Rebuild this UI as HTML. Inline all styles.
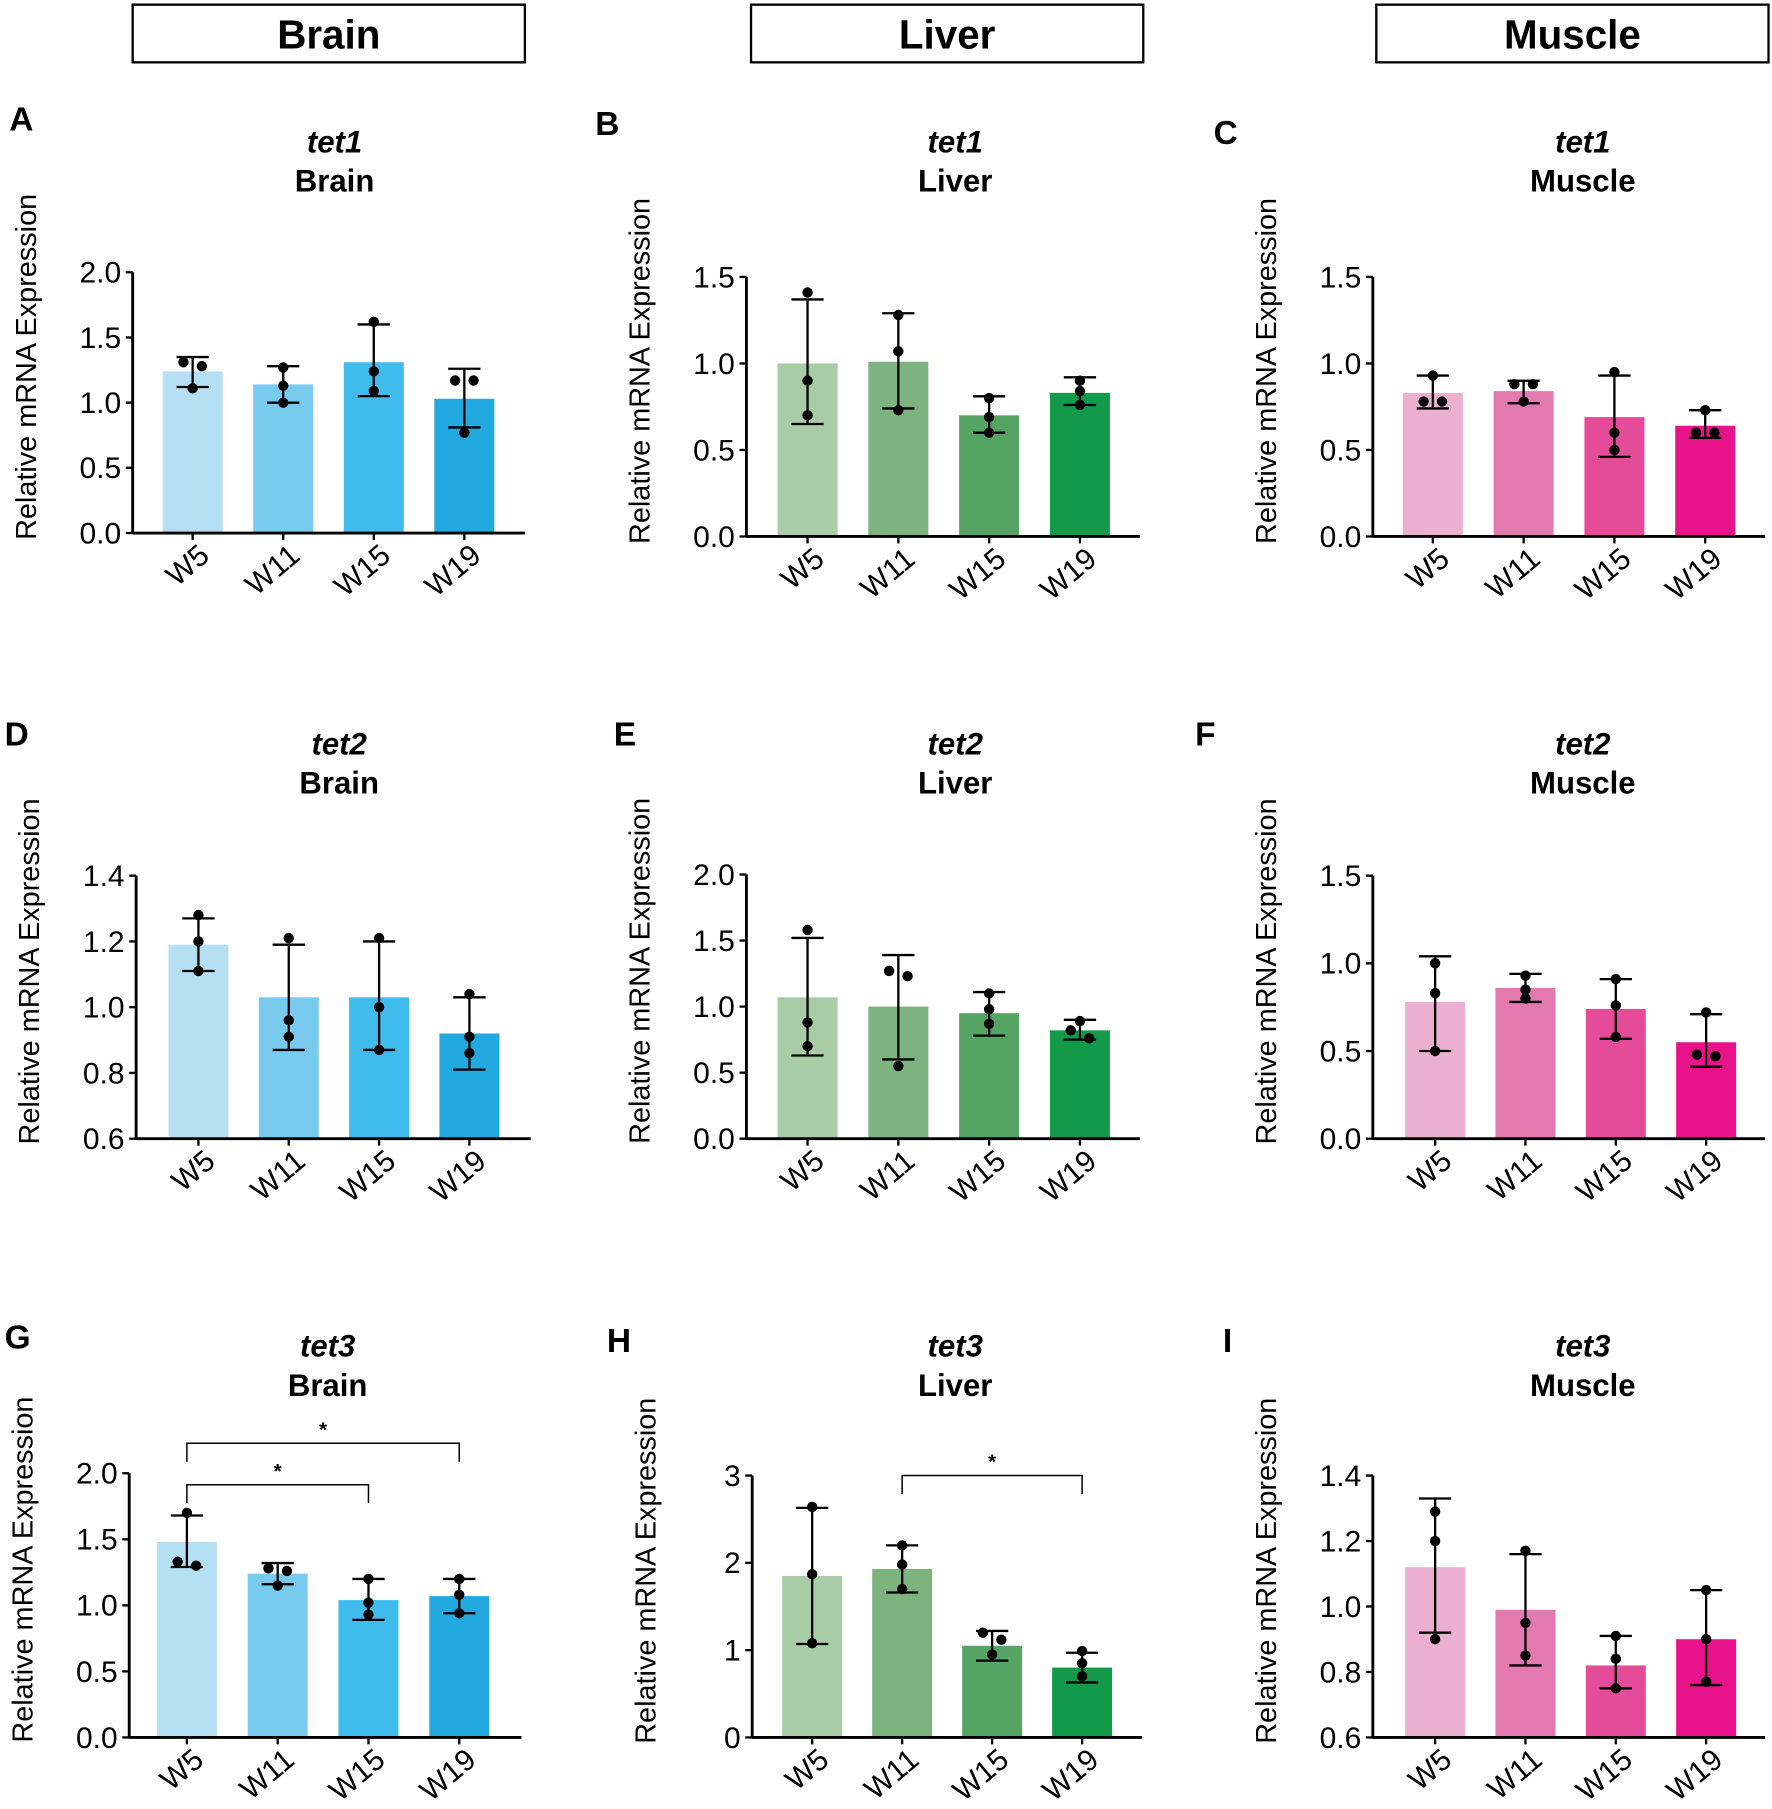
<!DOCTYPE html>
<html><head><meta charset="utf-8"><style>
html,body{margin:0;padding:0;background:#fff}
svg{display:block;font-family:"Liberation Sans",Arial,sans-serif}
</style></head><body>
<svg id="fig" width="1772" height="1809" viewBox="0 0 1536 1568"></svg>
<script>
const categories = ["W5","W11","W15","W19"];
const brainColors = ["#b5dff2","#78cbef","#3fbcec","#22a9e0"];
const liverColors = ["#a8cca6","#7db37e","#55a463","#13994a"];
const muscleColors = ["#ebb0d0","#e27ab0","#e44b98","#e8138a"];

const meansA=[1.24,1.14,1.31,1.03], lowA=[1.12,1.0,1.05,0.81], highA=[1.35,1.28,1.6,1.26], ptsA=[[1.31,1.28,1.11],[1.27,1.13,1.0],[1.62,1.24,1.09],[1.17,1.17,0.77]];
const meansB=[1.0,1.01,0.7,0.83], lowB=[0.65,0.74,0.6,0.76], highB=[1.37,1.29,0.81,0.92], ptsB=[[1.41,0.9,0.7],[1.28,1.07,0.73],[0.8,0.69,0.6],[0.9,0.84,0.76]];
const meansC=[0.83,0.84,0.69,0.64], lowC=[0.74,0.77,0.46,0.57], highC=[0.93,0.9,0.93,0.73], ptsC=[[0.93,0.78,0.78],[0.88,0.88,0.78],[0.95,0.6,0.5],[0.73,0.6,0.6]];
const meansD=[1.19,1.03,1.03,0.92], lowD=[1.11,0.87,0.87,0.81], highD=[1.27,1.19,1.2,1.03], ptsD=[[1.28,1.2,1.11],[1.21,0.96,0.91],[1.21,1.0,0.87],[1.04,0.91,0.86]];
const meansE=[1.07,1.0,0.95,0.82], lowE=[0.63,0.6,0.78,0.75], highE=[1.52,1.39,1.11,0.9], ptsE=[[1.58,0.88,0.7],[1.27,1.23,0.55],[1.1,0.98,0.87],[0.89,0.82,0.76]];
const meansF=[0.78,0.86,0.74,0.55], lowF=[0.5,0.78,0.57,0.41], highF=[1.04,0.94,0.91,0.71], ptsF=[[1.0,0.83,0.5],[0.93,0.85,0.8],[0.91,0.76,0.58],[0.72,0.48,0.47]];
const meansG=[1.48,1.24,1.04,1.07], lowG=[1.29,1.16,0.89,0.94], highG=[1.68,1.32,1.2,1.2], ptsG=[[1.7,1.33,1.3],[1.28,1.26,1.15],[1.2,1.02,0.93],[1.2,1.08,0.94]];
const meansH=[1.85,1.93,1.05,0.8], lowH=[1.07,1.66,0.88,0.63], highH=[2.63,2.2,1.22,0.97], ptsH=[[2.64,1.87,1.08],[2.2,1.98,1.7],[1.2,1.12,0.95],[0.99,0.85,0.7]];
const meansI=[1.12,0.99,0.82,0.9], lowI=[0.92,0.82,0.75,0.76], highI=[1.33,1.16,0.91,1.05], ptsI=[[1.29,1.2,0.9],[1.17,0.95,0.85],[0.91,0.84,0.75],[1.05,0.9,0.77]];

const ticksA=[0,0.5,1,1.5,2], ticks15=[0,0.5,1,1.5], ticksD=[0.6,0.8,1.0,1.2,1.4], ticksE=[0,0.5,1,1.5,2], ticksH=[0,1,2,3];
const tickLabelsA=["0.0","0.5","1.0","1.5","2.0"], tickLabels15=["0.0","0.5","1.0","1.5"], tickLabelsD=["0.6","0.8","1.0","1.2","1.4"], tickLabelsH=["0","1","2","3"];

const NS="http://www.w3.org/2000/svg";
const svg=document.getElementById('fig');
function el(tag,attrs,parent,text){const e=document.createElementNS(NS,tag);for(const k in attrs)e.setAttribute(k,attrs[k]);if(text!=null)e.textContent=text;(parent||svg).appendChild(e);return e;}

[["Brain",115,455],["Liver",651,991],["Muscle",1193,1533]].forEach(h=>{
  const g=el('g',{});
  
  
  el('rect',{x:h[1],y:4,width:h[2]-h[1],height:50,fill:'#fff',stroke:'#000','stroke-width':2},g);
  el('text',{x:(h[1]+h[2])/2,y:42,'text-anchor':'middle','font-size':35,'font-weight':'bold'},g,h[0]);
});

function panel(o){
  const g=el('g',{});
  
  
  const y=v=>o.y0-(v-o.vmin)/(o.vmax-o.vmin)*(o.y0-o.y1);
  const x=i=>o.bx0+i*o.step;
  el('text',{x:o.lx,y:o.ly,'font-size':29,'font-weight':'bold'},g,o.letter);
  el('text',{x:o.tc,y:o.ty,'text-anchor':'middle','font-size':27,'font-weight':'bold','font-style':'italic'},g,o.gene);
  el('text',{x:o.tc,y:o.ty+34,'text-anchor':'middle','font-size':27,'font-weight':'bold'},g,o.tissue);
  const yl=el('text',{x:0,y:0,'text-anchor':'middle','font-size':25,transform:`translate(${o.ax-84},${(o.y0+o.y1)/2-31}) rotate(-90)`},g,'Relative mRNA Expression');
  
  
  o.means.forEach((m,i)=>{
    const b=el('rect',{x:x(i)-26,y:y(m),width:52,height:o.y0-y(m),fill:o.colors[i]},g);
    
    
    const e=el('g',{stroke:'#000','stroke-width':2},g);
    
    
    el('line',{x1:x(i),x2:x(i),y1:y(o.low[i]),y2:y(o.high[i])},e);
    el('line',{x1:x(i)-14,x2:x(i)+14,y1:y(o.low[i]),y2:y(o.low[i])},e);
    el('line',{x1:x(i)-14,x2:x(i)+14,y1:y(o.high[i]),y2:y(o.high[i])},e);
    o.pts[i].forEach((p,j)=>{
      let dx=0;
      o.pts[i].forEach((q,k)=>{if(k!==j&&Math.abs(q-p)<(o.vmax-o.vmin)*0.03)dx=(k<j?8:-8);});
      const c=el('circle',{cx:x(i)+dx,cy:y(p),r:4.5,fill:'#000'},g);
      
      
    });
  });
  el('line',{x1:o.ax,x2:o.ax,y1:o.y1,y2:o.y0+1,stroke:'#000','stroke-width':2.5},g);
  el('line',{x1:o.ax,x2:o.xend,y1:o.y0,y2:o.y0,stroke:'#000','stroke-width':2.5},g);
  o.ticks.forEach((t,i)=>{
    el('line',{x1:o.ax-6,x2:o.ax,y1:y(t),y2:y(t),stroke:'#000','stroke-width':2},g);
    el('text',{x:o.ax-10,y:y(t)+9,'text-anchor':'end','font-size':26},g,o.tickLabels[i]);
  });
  categories.forEach((c,i)=>{
    el('line',{x1:x(i),x2:x(i),y1:o.y0,y2:o.y0+6,stroke:'#000','stroke-width':2},g);
    const t=el('text',{x:0,y:0,'text-anchor':'end','font-size':26,transform:`translate(${x(i)+16},${o.y0+22}) rotate(-40)`},g,c);
    
    
  });
  (o.sig||[]).forEach(s=>{
    const sg=el('g',{},g);
    
    
    el('path',{d:`M${x(s[0])},${s[2]+16}V${s[2]}H${x(s[1])}V${s[2]+16}`,fill:'none',stroke:'#000','stroke-width':1.3},sg);
    el('text',{x:(x(s[0])+x(s[1]))/2,y:s[2]-6,'text-anchor':'middle','font-size':18,'font-weight':'bold'},sg,'*');
  });
}

panel({letter:'A',lx:8,ly:113,gene:'tet1',tissue:'Brain',tc:290,ty:132,ax:115,y0:462,y1:236,vmin:0,vmax:2,xend:455,bx0:167,step:78.5,means:meansA,low:lowA,high:highA,pts:ptsA,colors:brainColors,ticks:ticksA,tickLabels:tickLabelsA});
panel({letter:'B',lx:516,ly:117,gene:'tet1',tissue:'Liver',tc:828,ty:132,ax:647,y0:465,y1:240,vmin:0,vmax:1.5,xend:988,bx0:700,step:78.7,means:meansB,low:lowB,high:highB,pts:ptsB,colors:liverColors,ticks:ticks15,tickLabels:tickLabels15});
panel({letter:'C',lx:1052,ly:125,gene:'tet1',tissue:'Muscle',tc:1372,ty:132,ax:1190,y0:465,y1:240,vmin:0,vmax:1.5,xend:1530,bx0:1242,step:78.7,means:meansC,low:lowC,high:highC,pts:ptsC,colors:muscleColors,ticks:ticks15,tickLabels:tickLabels15});
panel({letter:'D',lx:4,ly:646,gene:'tet2',tissue:'Brain',tc:294,ty:654,ax:118,y0:987,y1:759,vmin:0.6,vmax:1.4,xend:460,bx0:172,step:78.3,means:meansD,low:lowD,high:highD,pts:ptsD,colors:brainColors,ticks:ticksD,tickLabels:tickLabelsD});
panel({letter:'E',lx:532,ly:646,gene:'tet2',tissue:'Liver',tc:828,ty:654,ax:647,y0:987,y1:758,vmin:0,vmax:2,xend:988,bx0:700,step:78.7,means:meansE,low:lowE,high:highE,pts:ptsE,colors:liverColors,ticks:ticksE,tickLabels:tickLabelsA});
panel({letter:'F',lx:1036,ly:646,gene:'tet2',tissue:'Muscle',tc:1372,ty:654,ax:1190,y0:987,y1:759,vmin:0,vmax:1.5,xend:1530,bx0:1244,step:78.3,means:meansF,low:lowF,high:highF,pts:ptsF,colors:muscleColors,ticks:ticks15,tickLabels:tickLabels15});
panel({letter:'G',lx:4,ly:1169,gene:'tet3',tissue:'Brain',tc:284,ty:1176,ax:112,y0:1506,y1:1277,vmin:0,vmax:2,xend:452,bx0:162,step:78.7,means:meansG,low:lowG,high:highG,pts:ptsG,colors:brainColors,ticks:ticksA,tickLabels:tickLabelsA,sig:[[0,2,1287],[0,3,1251]]});
panel({letter:'H',lx:526,ly:1172,gene:'tet3',tissue:'Liver',tc:828,ty:1176,ax:652,y0:1506,y1:1279,vmin:0,vmax:3,xend:990,bx0:704,step:78,means:meansH,low:lowH,high:highH,pts:ptsH,colors:liverColors,ticks:ticksH,tickLabels:tickLabelsH,sig:[[1,3,1279]]});
panel({letter:'I',lx:1060,ly:1172,gene:'tet3',tissue:'Muscle',tc:1372,ty:1176,ax:1190,y0:1506,y1:1279,vmin:0.6,vmax:1.4,xend:1530,bx0:1244,step:78.3,means:meansI,low:lowI,high:highI,pts:ptsI,colors:muscleColors,ticks:ticksD,tickLabels:tickLabelsD});
</script>
</body></html>
